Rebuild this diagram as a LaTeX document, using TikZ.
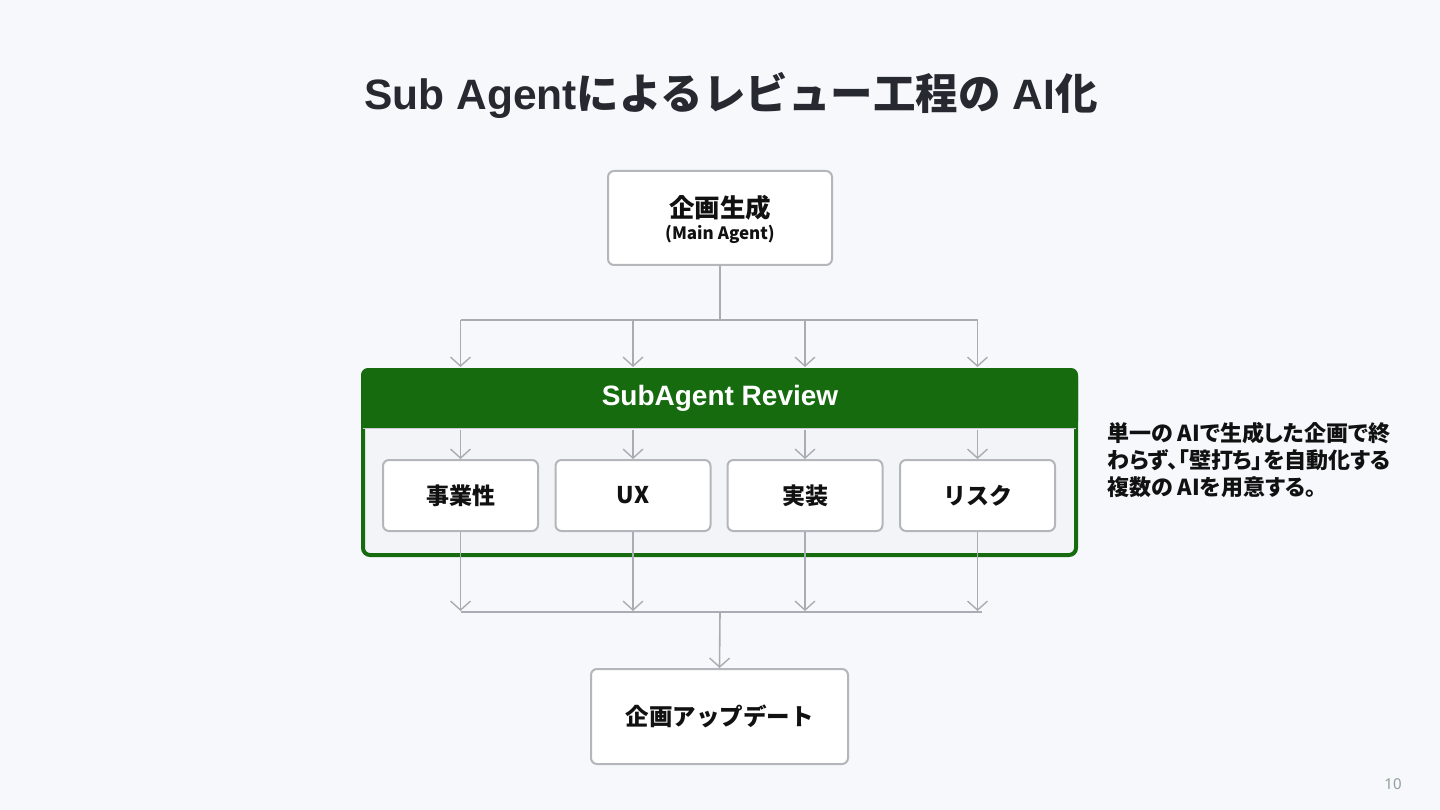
\documentclass[tikz,border=0pt]{standalone}
\usepackage{fontspec}
\setmainfont{Liberation Sans}
\newfontfamily\jp{Noto Sans CJK JP}
\newfontfamily\jpp{Noto Sans CJK JP}[RawFeature=+palt]
\newfontfamily\lat{Liberation Sans}
\newfontfamily\pnum{Noto Sans}
\usetikzlibrary{arrows.meta,positioning}
\definecolor{bgc}{HTML}{F7F8FC}
\definecolor{bodyc}{HTML}{F2F4F8}
\definecolor{grn}{HTML}{166B0F}
\definecolor{linec}{HTML}{A9ADB3}
\definecolor{boxline}{HTML}{B3B6BB}
\definecolor{titlec}{HTML}{262A30}
\definecolor{txt}{HTML}{111111}
\definecolor{pnc}{HTML}{8FA096}
\tikzset{
  x=1pt,y=-1pt,
  wbox/.style={draw=boxline,line width=2pt,fill=white,rounded corners=6pt,text=txt,align=center,inner sep=0pt},
  subbox/.style={wbox,minimum width=155pt,minimum height=71pt,font=\jp\bfseries\fontsize{23}{27}\selectfont},
  conn/.style={draw=linec,line width=1.6pt},
  arr/.style={conn,-{Straight Barb[length=9pt,width=20pt,line width=1.4pt]}},
  grpbox/.style={draw=grn,line width=4pt,fill=bodyc,rounded corners=7pt,minimum width=713pt,minimum height=185pt,inner sep=0pt},
}
\begin{document}
\begin{tikzpicture}
\useasboundingbox (0,0) rectangle (1440,810);
\fill[bgc] (0,0) rectangle (1440,810);
% title
\node[text=titlec,font=\bfseries\fontsize{42.5}{50}\selectfont,inner sep=0pt] (title) at (731,95)
  {{\lat Sub Agent}{\jp によるレビュー工程の}{\lat\ AI}{\jp 化}};
% top box
\node[wbox,minimum width=224pt,minimum height=94pt] (gen) at (720,218) {};
\node[text=txt,font=\jp\bfseries\fontsize{25.5}{30}\selectfont] (genl) at (720,208) {企画生成};
\node[text=txt,font=\jp\bfseries\fontsize{17}{20}\selectfont] (gens) at (720,234) {(Main Agent)};
% group container
\node[grpbox] (grp) at (719.5,462.5) {};
\fill[grn,rounded corners=7pt] (grp.north west) rectangle ([yshift=-60pt]grp.north east);
\fill[grn] ([yshift=-20pt]grp.north west) rectangle ([yshift=-60pt]grp.north east);
\draw[boxline!70,line width=1pt] ([xshift=2pt,yshift=-60.5pt]grp.north west) -- ([xshift=-2pt,yshift=-60.5pt]grp.north east);
\node[text=white,font=\lat\bfseries\fontsize{28}{32}\selectfont] (hdr) at (720,398) {SubAgent Review};
% sub boxes
\node[subbox] (s1) at (460.5,495.5) {事業性};
\node[subbox] (s2) at (633,495.5) {UX};
\node[subbox] (s3) at (805,495.5) {実装};
\node[subbox] (s4) at (977.5,495.5) {リスク};
% bottom box
\node[wbox,minimum width=257pt,minimum height=95pt,font=\jp\bfseries\fontsize{23.5}{28}\selectfont] (upd) at (719.5,716.5) {企画アップデート};
% top bus
\coordinate (tb) at (720,320);
\coordinate (t1) at (460.5,320);
\coordinate (t4) at (977.5,320);
\draw[conn] (gen.south) -- (tb);
\draw[conn] (t1) -- (t4);
\foreach \i/\xx in {1/460.5,2/633,3/805,4/977.5}{
  \coordinate (u\i) at (\xx,320);
  \coordinate (h\i) at (\xx,430);
  \draw[arr] (u\i) -- (\xx,367);
  \draw[arr] (h\i) -- (s\i.north);
  \coordinate (d\i) at (\xx,611);
  \draw[arr] (s\i.south) -- (d\i);
}
% bottom bus
\coordinate (bb1) at (460.5,612);
\coordinate (bb4) at (982,612);
\coordinate (bbm) at (720,612);
\draw[conn] (bb1) -- (bb4);
\draw[arr] (bbm) -- (upd.north);
% side note
\node[anchor=north west,align=left,text=txt,inner sep=0pt,font=\jpp\bfseries\fontsize{22}{27}\selectfont] (note) at (1107,422)
  {単一の AIで生成した企画で終\\わらず、「壁打ち」を自動化する\\複数の AIを用意する。};
% page number
\node[text=pnc,font=\pnum\fontsize{15}{18}\selectfont] (pn) at (1393,784) {10};
\end{tikzpicture}
\end{document}
